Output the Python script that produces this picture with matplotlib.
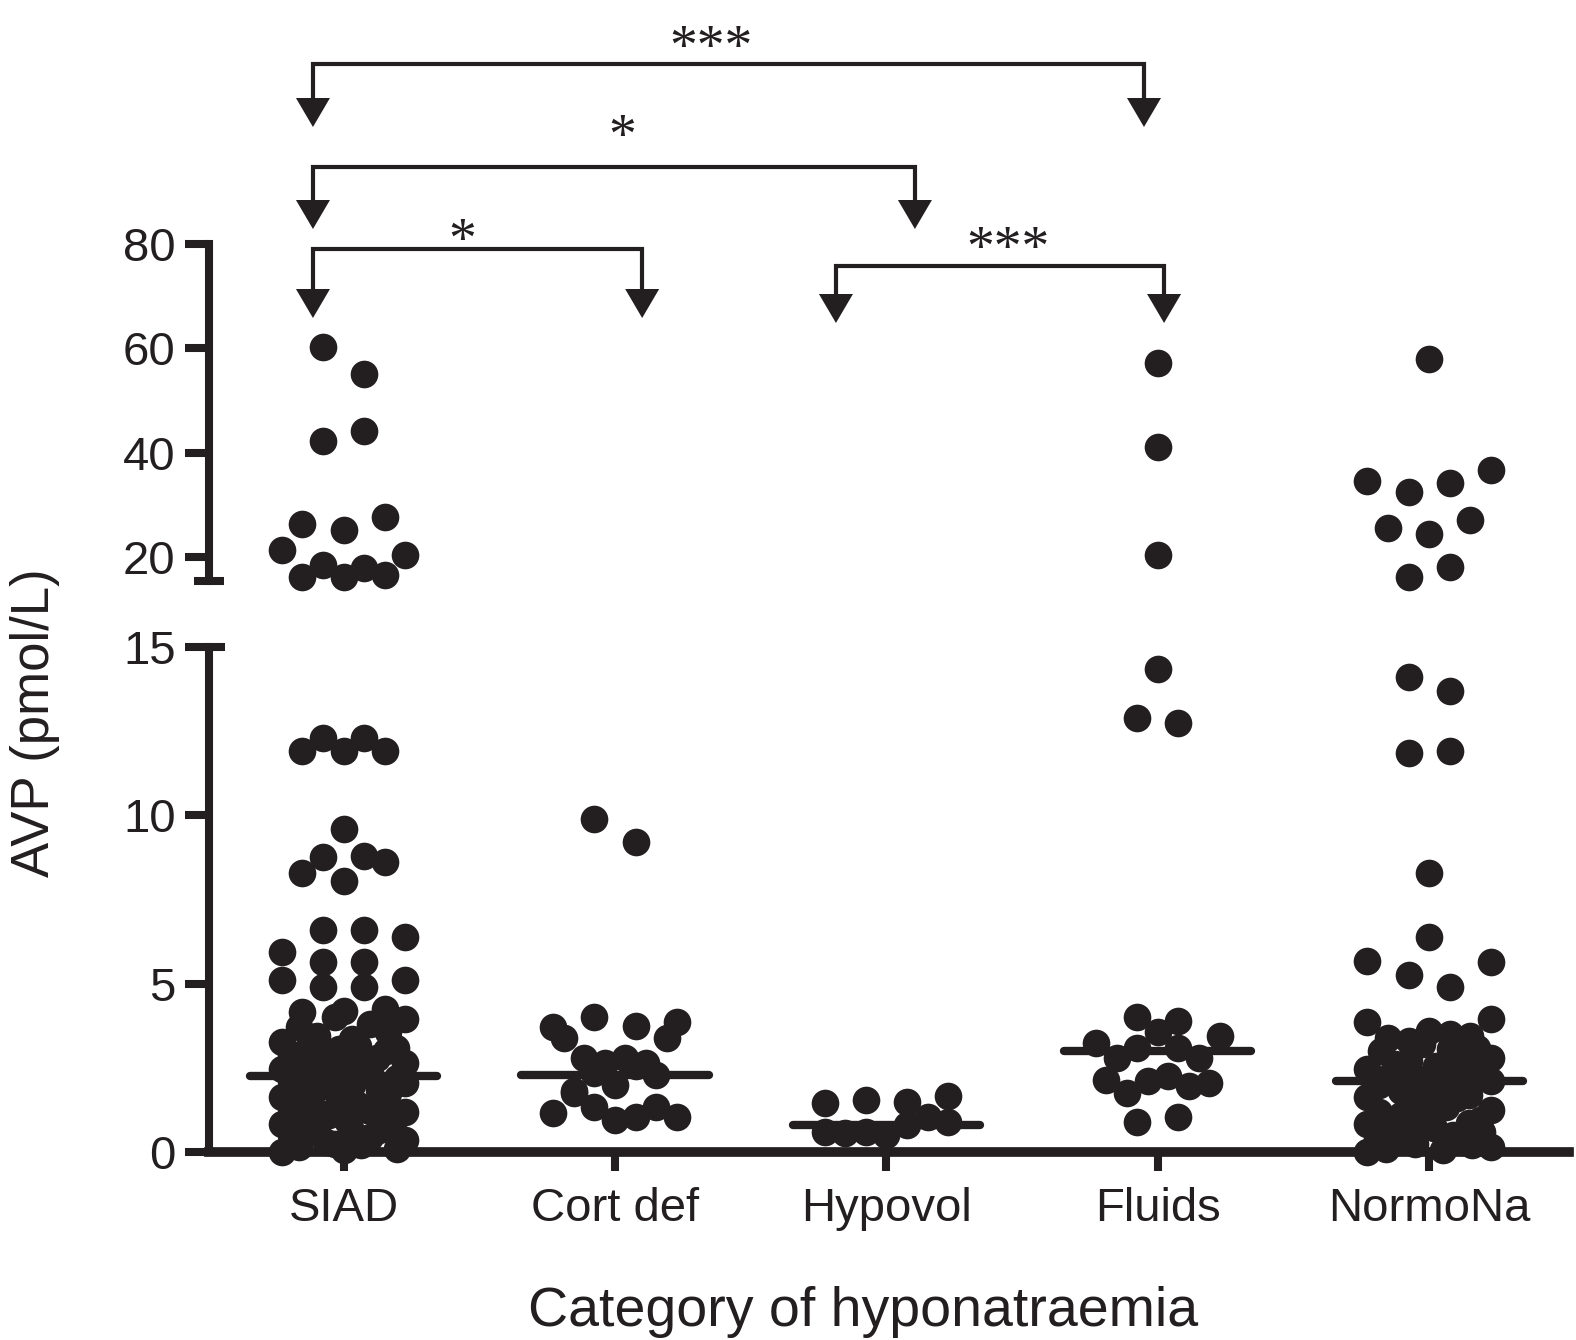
import numpy as np
import matplotlib
matplotlib.use("Agg")
import matplotlib.pyplot as plt
from matplotlib import transforms

plt.rcParams["font.family"] = ["Liberation Sans", "DejaVu Sans"]

# ---- data (AVP, pmol/L) ----
categories = ["SIAD", "Cort def", "Hypovol", "Fluids", "NormoNa"]

siad_avp = [60.2, 55.1, 42.2, 44.2, 26.3, 25.2, 27.7,
            21.3, 16.2, 18.5, 16.2, 17.9, 16.6, 20.4,
            11.9, 12.3, 11.9, 12.3, 11.9, 9.6,
            8.3, 8.75, 8.05, 8.8, 8.6,
            5.95, 6.6, 6.6, 6.4, 5.1, 5.65, 5.65, 5.1,
            4.15, 4.9, 4.2, 4.9, 4.25,
            3.28, 3.7, 3.45, 4.0, 3.35, 3.8, 3.55, 3.95,
            2.46, 2.9, 2.6, 3.2, 2.75, 2.85, 3.05, 2.55, 3.15, 2.7, 2.8, 3.0, 3.1, 2.65,
            1.64, 2.1, 1.8, 2.4, 1.9, 1.95, 2.25, 1.7, 2.0, 2.3, 2.35, 1.85, 1.75, 2.2, 2.05,
            0.82, 1.3, 0.95, 1.5, 1.15, 1.1, 1.6, 0.9, 1.4, 1.25, 1.45, 1.0, 1.05, 1.2,
            0.0, 0.5, 0.15, 0.55, 0.7, 0.3, 0.25, 0.05, 0.6, 0.2, 0.45, 0.65, 0.75, 0.1, 0.35]
cortdef_avp = [9.9, 9.2,
               3.7, 4.0, 3.75, 3.85,
               3.4, 2.8, 2.65, 2.8, 2.65, 3.4,
               1.8, 2.35, 2.0, 2.55, 2.3,
               1.15, 1.75, 1.35, 0.95, 1.05, 1.35, 1.05]
hypovol_avp = [1.45, 1.55, 1.5, 1.65,
               0.6, 0.55, 0.6, 0.5, 0.8, 1.05, 0.9]
fluids_avp = [57.2, 41.1, 20.4, 14.35, 12.9, 12.75,
              4.0, 3.9,
              3.25, 2.8, 3.1, 3.55, 3.1, 2.8, 3.45,
              2.15, 1.75, 2.1, 2.25, 1.95, 2.05,
              0.9, 1.05]
normona_avp = [58.0, 34.6, 32.5, 34.2, 36.7, 25.6, 24.4, 27.1, 16.2, 18.1,
               14.1, 13.7, 11.85, 11.9, 8.3, 6.4, 5.68, 5.25, 4.9, 5.65,
               3.85, 3.4, 3.3, 3.6, 3.5, 3.45, 3.95,
               2.46, 3.0, 2.6, 2.7, 3.2, 2.55, 3.05, 2.9, 3.1, 2.8,
               1.64, 2.0, 2.25, 1.8, 2.3, 1.9, 1.75, 2.15, 2.4, 1.7, 2.35, 2.1,
               0.82, 1.2, 0.9, 1.1, 1.5, 1.05, 1.4, 1.35, 1.6, 0.85, 0.95, 1.25,
               0.0, 0.4, 0.1, 0.35, 0.65, 0.25, 0.75, 0.7, 0.05, 0.5, 0.3, 0.2, 0.6, 0.15]
medians = [2.25, 2.3, 0.8, 3.0, 2.1]

lower_ticks = [0, 5, 10, 15]
upper_ticks = [20, 40, 60, 80]

# significance brackets: (group a, group b, label)
comparisons = [(0, 3, "***"), (0, 2, "*"), (0, 1, "*"), (2, 3, "***")]

all_groups = [siad_avp, cortdef_avp, hypovol_avp, fluids_avp, normona_avp]

INK = "#231f20"
W, H = 1576, 1340


def fy(px):
    return 1 - px / H


def row_lanes(values, px_per_unit, row_px=27.0):
    # GraphPad-like column scatter: group close values into rows,
    # then spread each row symmetrically about the column centre
    values = np.asarray(values, float)
    lanes = np.zeros(len(values))
    rows, cur, start = [], [], None
    for i in np.argsort(values, kind="stable"):
        if start is None or (values[i] - start) * px_per_unit > row_px:
            if cur:
                rows.append(cur)
            cur, start = [], values[i]
        cur.append(i)
    if cur:
        rows.append(cur)
    for row in rows:
        row = sorted(row)
        n = len(row)
        step = 2.0 if n <= 4 else (1.0 if n <= 7 else 6.0 / (n - 1))
        for j, i in enumerate(row):
            lanes[i] = (j - (n - 1) / 2) * step
    return lanes


fig = plt.figure(figsize=(W / 100, H / 100), dpi=100)
left, right = 209 / W, 1569 / W
ax_lo = fig.add_axes([left, fy(1152), right - left, fy(647) - fy(1152)])
ax_up = fig.add_axes([left, fy(581), right - left, fy(244) - fy(581)])

xlim = (-0.496, 4.515)
split = 15.2
for ax, ylim in ((ax_lo, (0, 15)), (ax_up, (15.4, 80))):
    ax.set_xlim(*xlim)
    ax.set_ylim(*ylim)
    for s in ("top", "right"):
        ax.spines[s].set_visible(False)
    ax.spines["left"].set_linewidth(5.8)
    ax.spines["left"].set_color(INK)
    ax.tick_params(axis="y", length=17, width=5.8, pad=7, labelsize=34, colors=INK)

ax_up.spines["bottom"].set_visible(False)
ax_up.tick_params(axis="x", bottom=False, labelbottom=False)
ax_lo.spines["bottom"].set_linewidth(7)
ax_lo.spines["bottom"].set_color(INK)
ax_lo.tick_params(axis="x", length=14, width=5.8, pad=11, labelsize=34, colors=INK)

ax_lo.set_yticks(lower_ticks)
ax_up.set_yticks(upper_ticks)
ax_lo.set_xticks(range(len(categories)))
ax_lo.set_xticklabels(categories)

px_per_x = (right - left) * W / (xlim[1] - xlim[0])
lane_px = 20.6
for ax, lo_cut, hi_cut in ((ax_lo, -1, split), (ax_up, split, 1e9)):
    y0, y1 = ax.get_ylim()
    px_per_y = (ax.get_position().height * H) / (y1 - y0)
    for gi, vals in enumerate(all_groups):
        v = np.array([a for a in vals if lo_cut < a <= hi_cut])
        if len(v) == 0:
            continue
        lanes = row_lanes(v, px_per_y)
        ax.plot(gi + lanes * lane_px / px_per_x, v, "o", ms=19.9, mec="none",
                color=INK, clip_on=False, zorder=3)

for gi, m in enumerate(medians):
    ax_lo.plot([gi - 0.345, gi + 0.345], [m, m], color=INK, lw=6,
               solid_capstyle="round", zorder=4, clip_on=False)

# axis break marks
ax_up.plot([-0.011, 0.011], [15.4, 15.4], transform=ax_up.get_yaxis_transform(),
           color=INK, lw=5.8, clip_on=False, solid_capstyle="butt")
ax_lo.plot([0, 0.0118], [15, 15], transform=ax_lo.get_yaxis_transform(),
           color=INK, lw=5.8, clip_on=False, solid_capstyle="butt")

# significance brackets
trans = transforms.blended_transform_factory(ax_lo.transData, fig.transFigure)
bracket_layout = [  # x shift at each end, star x shift, line y, arrow tip y, star y (px)
    (-0.113, -0.051, -0.066, 64, 127, 37),
    (-0.113, 0.105, 0.03, 167, 229, 126),
    (-0.113, 0.100, -0.055, 249, 318, 230),
    (-0.186, 0.023, 0.03, 266, 323, 238),
]
head_w = 34 / px_per_x / 2
head_h = 29
for (a, b, label), (da, db, ds, yl, yt, ys) in zip(comparisons, bracket_layout):
    xa, xb = a + da, b + db
    fig.add_artist(plt.Line2D([xa, xa, xb, xb],
                              [fy(yt - head_h + 2), fy(yl), fy(yl), fy(yt - head_h + 2)],
                              transform=trans, color=INK, lw=3, solid_joinstyle="miter"))
    for x in (xa, xb):
        fig.add_artist(plt.Polygon([[x - head_w, fy(yt - head_h)], [x + head_w, fy(yt - head_h)],
                                    [x, fy(yt)]], closed=True, transform=trans,
                                   color=INK, lw=0))
    fig.text((xa + xb) / 2 + ds, fy(ys + 27), label, transform=trans, ha="center",
             va="baseline", fontsize=40, family=["Liberation Serif", "DejaVu Serif"], color=INK)

fig.text(35 / W, fy(723), "AVP (pmol/L)", rotation=90, ha="center", va="center",
         fontsize=38, color=INK)
fig.text(863 / W, fy(1326), "Category of hyponatraemia", ha="center", va="baseline",
         fontsize=40, color=INK)

fig.savefig("out.png", dpi=100, facecolor="white")
